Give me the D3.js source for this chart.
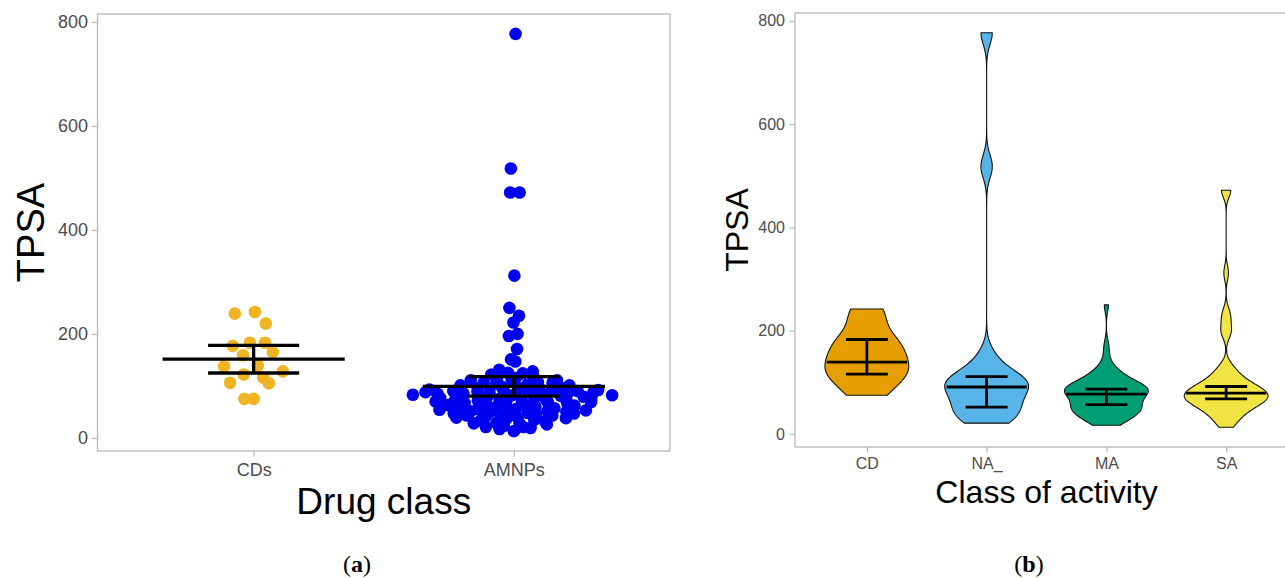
<!DOCTYPE html>
<html><head><meta charset="utf-8">
<script src="https://cdn.jsdelivr.net/npm/d3@7"></script>
<style>
body{margin:0;background:#fff}
svg{display:block}
text{font-family:"Liberation Sans",Arial,Helvetica,sans-serif}
</style>
</head><body>
<svg id="chart" width="1285" height="578"></svg>
<script>
// ---------------- data (TPSA values) ----------------
const drugClasses = ["CDs", "AMNPs"];
const activityClasses = ["CD", "NA_", "MA", "SA"];
const yTicks = [0, 200, 400, 600, 800];

const tpsaCD = [239, 242, 220, 177, 183, 183, 159, 165, 139, 138, 128, 122, 116, 106, 105, 75, 75];
const tpsaNA = [21, 28, 38, 45, 52, 62, 75, 85, 91, 96, 101, 106, 111, 122, 151, 518, 777];
const tpsaMA = [17, 19, 23, 26, 29, 32, 35, 37, 39, 41, 43, 45, 47, 48, 50, 51, 53, 54, 56,
                57, 60, 63, 66, 68, 70, 72, 75, 77,
                78, 80, 81, 82, 84, 85, 86, 87,
                88, 89, 90, 92, 93, 95, 97, 99, 101, 104, 107, 111, 115, 119, 124, 128, 147, 171, 250];
const tpsaSA = [13, 21, 28, 34, 39, 43, 47, 50, 53, 56, 59, 61, 63, 65, 67,
                68, 69, 70, 72, 73, 75, 77, 79,
                81, 83, 85, 87, 88, 90, 92,
                95, 98, 102, 106, 111, 117, 125, 131, 196, 200, 222, 235, 312, 472, 472];

const dotColors = ["#F0B323", "#0000F0"];
const violinColors = ["#E69F00", "#56B4E9", "#009E73", "#F0E442"];

// ---------------- statistics helpers ----------------
const asc = a => a.slice().sort((x, y) => x - y);
function q7(s, p) { const h = (s.length - 1) * p, lo = Math.floor(h), hi = Math.min(lo + 1, s.length - 1); return s[lo] + (h - lo) * (s[hi] - s[lo]); }
function sdev(a) { const m = d3.mean(a); return Math.sqrt(d3.sum(a, v => (v - m) ** 2) / (a.length - 1)); }
function bwNrd0(a) { const s = asc(a); const iqr = q7(s, .75) - q7(s, .25); const lo = Math.min(sdev(a), iqr / 1.34); return 0.9 * lo * Math.pow(a.length, -0.2); }
function kde(a, bw, x) { let s = 0; for (const v of a) { const z = (x - v) / bw; s += Math.exp(-0.5 * z * z); } return s / (a.length * bw * Math.sqrt(2 * Math.PI)); }
function tq975(df) { const z = 1.959964; return z + (z ** 3 + z) / (4 * df) + (5 * z ** 5 + 16 * z ** 3 + 3 * z) / (96 * df * df) + (3 * z ** 7 + 19 * z ** 5 + 17 * z ** 3 - 15 * z) / (384 * df ** 3); }
function meanCI(a) { const m = d3.mean(a), se = sdev(a) / Math.sqrt(a.length), t = tq975(a.length - 1); return { c: m, lo: m - t * se, hi: m + t * se }; }
function medianCI(a) { // distribution-free 95% CI of the median (order statistics)
  const s = asc(a), n = s.length; let pmf = Math.pow(0.5, n), cum = 0, k = 0;
  while (cum + pmf <= 0.025) { cum += pmf; pmf = pmf * (n - k) / (k + 1); k++; }
  return { c: d3.median(s), lo: s[k - 1], hi: s[n - k] };
}
function vdc(i) { let v = 0, d = 1; while (i > 0) { d *= 2; v += (i % 2) / d; i = Math.floor(i / 2); } return v; }
function quasiOffsets(vals, width) { // quasirandom (van der Corput) offsets scaled by density
  const n = vals.length, bw = 0.5 * bwNrd0(vals);
  const lo = d3.min(vals) - 3 * bw, hi = d3.max(vals) + 3 * bw;
  let maxD = 0; for (let i = 0; i < 1000; i++) maxD = Math.max(maxD, kde(vals, bw, lo + (hi - lo) * i / 999));
  const order = d3.range(n).sort((a, b) => (vals[a] - vals[b]) || (a - b));
  const off = new Array(n);
  order.forEach((idx, r) => { off[idx] = (vdc(r + 1) * 2 - 1) * kde(vals, bw, vals[idx]) / maxD * width; });
  return off;
}

const tpsaAMNP = tpsaNA.concat(tpsaMA, tpsaSA);
const leftGroups = [tpsaCD, tpsaAMNP];
const rightGroups = [tpsaCD, tpsaNA, tpsaMA, tpsaSA];
const allVals = tpsaCD.concat(tpsaAMNP);
const ext = d3.extent(allVals), span = ext[1] - ext[0];
const yDomain = [ext[0] - 0.05 * span, ext[1] + 0.05 * span];

const svg = d3.select("#chart");
const borderCol = "#BDBDBD", tickTextCol = "#4D4D4D";

function panel(p) {
  const g = svg.append("g");
  const x = d3.scalePoint().domain(p.cats).range([p.x0, p.x1]).padding(0.6);
  const y = d3.scaleLinear().domain(yDomain).range([p.y1, p.y0]);
  const yAx = g.append("g").attr("transform", `translate(${p.x0},0)`)
    .call(d3.axisLeft(y).tickValues(yTicks).tickSize(p.tick).tickPadding(p.ypad));
  const xAx = g.append("g").attr("transform", `translate(0,${p.y1})`)
    .call(d3.axisBottom(x).tickSize(p.tick).tickPadding(p.xpad));
  [yAx, xAx].forEach(a => {
    a.select(".domain").remove();
    a.selectAll(".tick line").attr("stroke", borderCol).attr("stroke-width", 1.3);
    a.selectAll(".tick text").attr("fill", tickTextCol).style("font-size", p.fs + "px").style("font-family", '"Liberation Sans",Arial,sans-serif');
  });
  g.append("rect").attr("x", p.x0).attr("y", p.y0).attr("width", p.x1 - p.x0).attr("height", p.y1 - p.y0)
    .attr("fill", "none").attr("stroke", borderCol).attr("stroke-width", 1.4);
  g.append("text").attr("transform", `translate(${p.ytx},${(p.y0 + p.y1) / 2}) rotate(-90)`)
    .attr("text-anchor", "middle").style("font-size", p.tfs[0] + "px").attr("fill", "#000").text("TPSA");
  g.append("text").attr("x", (p.x0 + p.x1) / 2).attr("y", p.xty).attr("text-anchor", "middle")
    .style("font-size", p.tfs[1] + "px").attr("fill", "#000").text(p.xtitle);
  return { g, x, y };
}

// ---------------- panel (a) ----------------
const A = panel({ cats: drugClasses, x0: 97.5, x1: 670, y0: 14, y1: 451, tick: 5.5, ypad: 4, xpad: 7, fs: 18,
  ytx: 44, xty: 514, tfs: [38, 37], xtitle: "Drug class" });
const stepA = A.x.step();
const maxN = d3.max(leftGroups, g => g.length);
leftGroups.forEach((vals, gi) => {
  const off = quasiOffsets(vals, 0.4 * Math.sqrt(vals.length / maxN));
  const cx = A.x(drugClasses[gi]);
  A.g.append("g").selectAll("circle").data(vals).join("circle")
    .attr("cx", (d, i) => cx + off[i] * stepA).attr("cy", d => A.y(d)).attr("r", 6.3)
    .attr("fill", dotColors[gi]);
});
leftGroups.forEach((vals, gi) => {
  const s = meanCI(vals), cx = A.x(drugClasses[gi]);
  const bars = A.g.append("g").attr("stroke", "#000").attr("stroke-width", 3.3);
  bars.append("line").attr("x1", cx - 0.35 * stepA).attr("x2", cx + 0.35 * stepA).attr("y1", A.y(s.c)).attr("y2", A.y(s.c));
  [s.lo, s.hi].forEach(v => bars.append("line").attr("x1", cx - 0.175 * stepA).attr("x2", cx + 0.175 * stepA).attr("y1", A.y(v)).attr("y2", A.y(v)));
  bars.append("line").attr("x1", cx).attr("x2", cx).attr("y1", A.y(s.lo)).attr("y2", A.y(s.hi));
});

// ---------------- panel (b) ----------------
const B = panel({ cats: activityClasses, x0: 795, x1: 1298, y0: 13, y1: 447, tick: 5.5, ypad: 4.5, xpad: 5.5, fs: 16,
  ytx: 748, xty: 502.5, tfs: [32, 32], xtitle: "Class of activity" });
const stepB = B.x.step();
rightGroups.forEach((vals, gi) => {
  const bw = bwNrd0(vals), [mn, mx] = d3.extent(vals);
  const grid = d3.range(512).map(i => mn + (mx - mn) * i / 511);
  const dens = grid.map(v => kde(vals, bw, v)), md = d3.max(dens);
  const cx = B.x(activityClasses[gi]), hw = 0.35 * stepB;
  const pts = grid.map((v, i) => [cx - hw * dens[i] / md, B.y(v)])
    .concat(grid.map((v, i) => [cx + hw * dens[i] / md, B.y(v)]).reverse());
  B.g.append("path").attr("d", d3.line()(pts) + "Z").attr("fill", violinColors[gi])
    .attr("stroke", "#111").attr("stroke-width", 1.1).attr("stroke-linejoin", "round");
});
rightGroups.forEach((vals, gi) => {
  const s = medianCI(vals), cx = B.x(activityClasses[gi]);
  const bars = B.g.append("g").attr("stroke", "#000").attr("stroke-width", 2.8);
  bars.append("line").attr("x1", cx - 0.335 * stepB).attr("x2", cx + 0.335 * stepB).attr("y1", B.y(s.c)).attr("y2", B.y(s.c));
  [s.lo, s.hi].forEach(v => bars.append("line").attr("x1", cx - 0.175 * stepB).attr("x2", cx + 0.175 * stepB).attr("y1", B.y(v)).attr("y2", B.y(v)));
  bars.append("line").attr("x1", cx).attr("x2", cx).attr("y1", B.y(s.lo)).attr("y2", B.y(s.hi));
});

// ---------------- captions ----------------
[["(a)", 357], ["(b)", 1029]].forEach(([t, x]) => {
  const c = svg.append("text").attr("x", x).attr("y", 572).attr("text-anchor", "middle")
    .style("font-family", '"Liberation Serif","Times New Roman",serif').style("font-size", "24px").attr("fill", "#000");
  c.append("tspan").text("(");
  c.append("tspan").attr("font-weight", "bold").text(t.slice(1, 2));
  c.append("tspan").text(")");
});
</script>
</body></html>
